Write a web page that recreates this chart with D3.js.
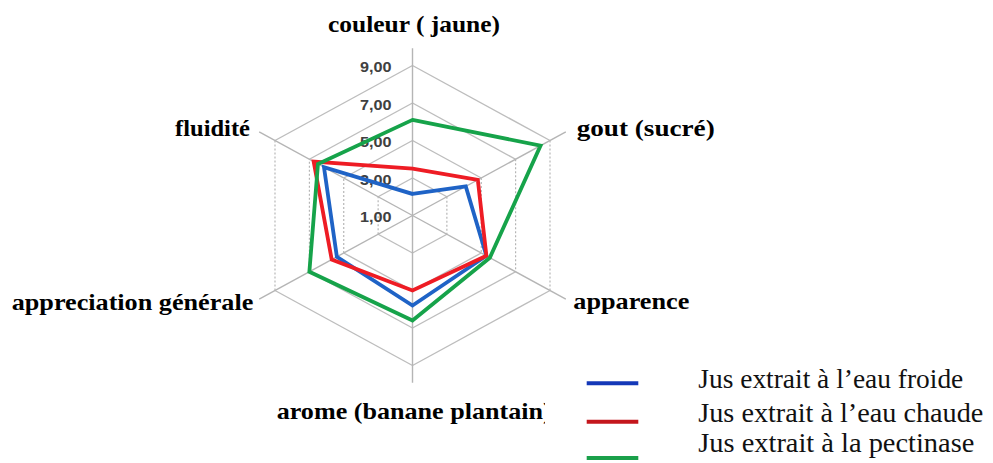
<!DOCTYPE html>
<html>
<head>
<meta charset="utf-8">
<script src="https://cdn.jsdelivr.net/npm/d3@7"></script>
<style>
  html, body { margin: 0; padding: 0; background: #fff; }
  svg { display: block; }
</style>
</head>
<body>
<svg id="chart" width="993" height="463"></svg>
<script>
// ---------- DATA ----------
const categories = ["couleur ( jaune)", "gout (sucré)", "apparence", "arome (banane plantain)", "appreciation générale", "fluidité"];
const seriesNames = ["Jus extrait à l\u2019eau froide", "Jus extrait à l\u2019eau chaude", "Jus extrait à la pectinase"];
const froide    = [2.15, 4.1, 5.3, 5.8, 5.4, 6.15];
const chaude    = [3.5, 4.8, 5.3, 5.0, 5.7, 6.75];
const pectinase = [6.1, 8.45, 5.5, 6.6, 7.0, 6.5];
const tickValues = [1, 3, 5, 7, 9];
const tickLabels = ["1,00", "3,00", "5,00", "7,00", "9,00"];
const ringValues = [3, 5, 7, 9];

// ---------- LAYOUT / STYLE ----------
const seriesValues = [froide, chaude, pectinase];
const seriesColors = ["#1f63c6", "#ee1c24", "#16a34a"];
const legendColors = ["#1438b8", "#c4161c", "#1aa04a"];
const cx = 412.5, cy = 215.5, R = 150, kx = 1.0585;
const N = categories.length;

const svg = d3.select("#chart");
const r = d3.scaleLinear().domain([1, 9]).range([0, R]);

function pt(i, v) {
  const a = i * 2 * Math.PI / N;
  const rr = r(v);
  return [cx + kx * rr * Math.sin(a), cy - rr * Math.cos(a)];
}
function ptR(i, rr) {
  const a = i * 2 * Math.PI / N;
  return [cx + kx * rr * Math.sin(a), cy - rr * Math.cos(a)];
}

// grid rings: each edge separately; vertical edges dotted
const grid = svg.append("g");
ringValues.forEach(v => {
  for (let i = 0; i < N; i++) {
    const p1 = pt(i, v), p2 = pt((i + 1) % N, v);
    const vertical = Math.abs(p1[0] - p2[0]) < 0.5;
    grid.append("line")
      .attr("x1", p1[0]).attr("y1", p1[1]).attr("x2", p2[0]).attr("y2", p2[1])
      .attr("stroke", vertical ? "#b0b0b0" : "#bdbdbd")
      .attr("stroke-width", vertical ? 1.1 : 1.4)
      .attr("stroke-dasharray", vertical ? "2,2" : null);
  }
});
// spokes
for (let i = 0; i < N; i++) {
  const p = ptR(i, R * 1.115);
  grid.append("line")
    .attr("x1", cx).attr("y1", cy).attr("x2", p[0]).attr("y2", p[1])
    .attr("stroke", "#b5b5b5").attr("stroke-width", 1.4);
}

// tick labels along top axis
svg.append("g").selectAll("text").data(tickValues).join("text")
  .attr("x", 391.5)
  .attr("y", (d) => pt(0, d)[1] + 1)
  .attr("text-anchor", "end")
  .attr("dominant-baseline", "central")
  .attr("font-family", "'Liberation Sans', Arial, sans-serif")
  .attr("font-size", 15)
  .attr("font-weight", 600)
  .attr("fill", "#404040")
  .attr("textLength", 31.5)
  .attr("lengthAdjust", "spacingAndGlyphs")
  .text((d, i) => tickLabels[i]);

// series polygons
const line = d3.line().curve(d3.curveLinearClosed);
svg.append("g").selectAll("path").data(seriesValues).join("path")
  .attr("d", vals => line(vals.map((v, i) => pt(i, v))))
  .attr("fill", "none")
  .attr("stroke", (d, i) => seriesColors[i])
  .attr("stroke-width", 3.8)
  .attr("stroke-linejoin", "miter");

// category labels
const labelLayout = [
  { x: cx + 1.5, y: 32, anchor: "middle", len: 172 },
  { x: 576.7, y: 135.5, anchor: "start", len: 138 },
  { x: 573.3, y: 308.5, anchor: "start", len: 116 },
  { x: 276.7, y: 418.5, anchor: "start", len: 275 },
  { x: 253.3, y: 310, anchor: "end", len: 241.6 },
  { x: 250, y: 135.5, anchor: "end", len: 75 }
];
svg.append("defs").append("clipPath").attr("id", "clipAr")
  .append("rect").attr("x", 0).attr("y", 380).attr("width", 545).attr("height", 60);
svg.append("g").selectAll("text").data(categories).join("text")
  .attr("x", (d, i) => labelLayout[i].x)
  .attr("y", (d, i) => labelLayout[i].y)
  .attr("text-anchor", (d, i) => labelLayout[i].anchor)
  .attr("font-family", "'Liberation Serif', 'Times New Roman', serif")
  .attr("font-weight", "bold")
  .attr("font-size", 24)
  .attr("fill", "#000")
  .attr("textLength", (d, i) => labelLayout[i].len)
  .attr("lengthAdjust", "spacingAndGlyphs")
  .attr("clip-path", (d, i) => i === 3 ? "url(#clipAr)" : null)
  .text(d => d);

// legend
const legendLineY = [383.3, 421.7, 458];
const legendTextY = [388, 422, 452];
const legendLen = [265, 285, 276];
const lg = svg.append("g");
seriesNames.forEach((name, i) => {
  lg.append("line")
    .attr("x1", 586.7).attr("x2", 638.3)
    .attr("y1", legendLineY[i]).attr("y2", legendLineY[i])
    .attr("stroke", legendColors[i]).attr("stroke-width", 4);
  lg.append("text")
    .attr("x", 698.3).attr("y", legendTextY[i])
    .attr("font-family", "'Liberation Serif', 'Times New Roman', serif")
    .attr("font-size", 27)
    .attr("fill", "#111")
    .attr("textLength", legendLen[i])
    .attr("lengthAdjust", "spacingAndGlyphs")
    .text(name);
});
</script>
</body>
</html>
